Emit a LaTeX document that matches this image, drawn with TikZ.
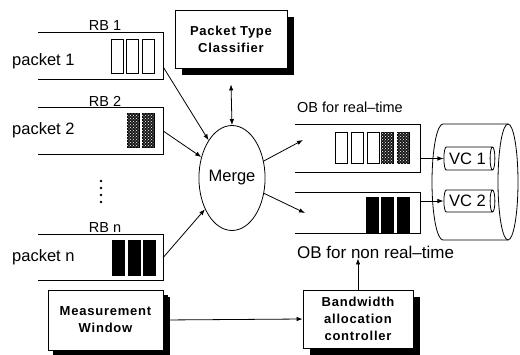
\documentclass[tikz,border=0pt]{standalone}
\usepackage{fontspec}
\setmainfont{Liberation Sans}
\newfontfamily\boxfont[LetterSpace=6.0]{Liberation Sans}
\usetikzlibrary{arrows.meta, positioning, shapes.geometric, shadows, patterns}

\begin{document}
\begin{tikzpicture}[
    x=1pt, y=-1pt,
    buffer/.style={rectangle, minimum width=125pt, inner sep=0pt},
    cell/.style={rectangle, draw, line width=1pt, minimum width=12pt, inner sep=0pt},
    whitecell/.style={cell, fill=white},
    hatchcell/.style={cell, fill=black!90, postaction={pattern=crosshatch dots, pattern color=white}},
    blackcell/.style={cell, fill=black},
    shadowbox/.style={rectangle, draw, line width=0.8pt, fill=white, align=center, font=\boxfont\bfseries\fontsize{13}{17}\selectfont, drop shadow={shadow xshift=7pt, shadow yshift=-7pt, fill=black, opacity=1}},
    vc/.style={cylinder, draw, line width=0.8pt, aspect=0.35, inner sep=1pt, font=\fontsize{16.5}{18}\selectfont},
    arr/.style={-{Latex[length=6pt, width=4.5pt]}, line width=0.8pt},
    txt/.style={font=\fontsize{16.5}{18}\selectfont, inner sep=0pt},
    rbtxt/.style={font=\fontsize{14.5}{16}\selectfont, inner sep=0pt}
]
\useasboundingbox (0,0) rectangle (520,354);

% Receive buffers
\node[buffer, minimum height=46pt] (rb1) at (100.5,56) {};
\node[buffer, minimum height=46pt] (rb2) at (100.5,131) {};
\node[buffer, minimum height=45pt] (rbn) at (100.5,257.5) {};
\node[rbtxt] (rb1lbl) at (105,26) {RB 1};
\node[rbtxt] (rb2lbl) at (105,101) {RB 2};
\node[rbtxt] (rbnlbl) at (105,228) {RB n};
\node[txt, anchor=west] (pk1) at (12,61) {packet 1};
\node[txt, anchor=west] (pk2) at (12,130) {packet 2};
\node[txt, anchor=west] (pkn) at (12,257) {packet n};

\foreach \x in {117,132.5,148} \node[whitecell, minimum height=34pt] at (\x,56) {};
\foreach \x in {133,148} \node[hatchcell, minimum height=34pt] at (\x,130) {};
\foreach \x in {118.5,134,149.5} \node[blackcell, minimum height=35pt] at (\x,257.5) {};
\foreach \y in {181,188,195,202} \fill (101,\y) circle (1.4);

% Output buffers
\node[buffer, minimum height=47pt] (obr) at (357.5,148.5) {};
\node[buffer, minimum height=40pt] (obn) at (357.5,213) {};
\node[rbtxt, anchor=west] (obrlbl) at (297,107) {OB for real--time};
\node[txt, font=\fontsize{17}{18}\selectfont, anchor=west] (obnlbl) at (297,252) {OB for non real--time};

\foreach \x in {341,357,373} \node[whitecell, minimum height=31pt] at (\x,147.5) {};
\foreach \x in {387,403} \node[hatchcell, minimum height=31pt] at (\x,147.5) {};
\foreach \x in {372.5,387,403} \node[blackcell, minimum height=35pt] at (\x,214.5) {};

\foreach \b in {rb1,rb2,rbn,obr,obn}
    \draw[line width=1.2pt] (\b.north west) -- (\b.north east) -- (\b.south east) -- (\b.south west);

% Merge and control boxes
\node[ellipse, draw, line width=0.8pt, minimum width=64pt, minimum height=105pt, txt] (merge) at (232,178) {Merge};
\node[shadowbox, minimum width=112pt, minimum height=58pt] (ptc) at (231,39) {Packet Type\\Classifier};
\node[shadowbox, minimum width=115pt, minimum height=60pt, drop shadow={shadow xshift=5pt, shadow yshift=-5pt, fill=black, opacity=1}] (mw) at (105.5,320) {Measurement\\Window};
\node[shadowbox, minimum width=110pt, minimum height=58pt] (bac) at (358,319) {Bandwidth\\allocation\\controller};

% Link cylinder with virtual channels
\draw[line width=0.8pt] (508,124) -- (443,124) arc[start angle=270, end angle=90, x radius=11, y radius=58] -- (508,240);
\draw[line width=0.8pt] (508,182) ellipse [x radius=10, y radius=58];
\node[vc, minimum width=23pt, minimum height=51pt] (vc1) at (467.5,158.5) {VC 1};
\node[vc, minimum width=22pt, minimum height=51pt] (vc2) at (467.5,201) {VC 2};
\coordinate (obrin) at (303,140);
\coordinate (obnin) at (305,213);

% Connectors
\draw[arr] ([yshift=-11pt]rb1.east) -- (merge);
\draw[arr] (rb2.east) -- (merge);
\draw[arr] (rbn.east) -- (merge);
\draw[arr, {Latex[length=6pt, width=4.5pt]}-{Latex[length=6pt, width=4.5pt]}] ([yshift=-16pt]ptc.south) -- (merge.north);
\draw[arr] (merge) -- (obrin);
\draw[arr] (merge) -- (obnin);
\draw[arr] (obr.east |- vc1.west) -- (vc1.west);
\draw[arr] (obn.east |- vc2.west) -- (vc2.west);
\draw[arr] (mw.east) -- (bac.west);
\draw[arr] (bac.north) -- (obnlbl.south -| bac.north);

\end{tikzpicture}
\end{document}
